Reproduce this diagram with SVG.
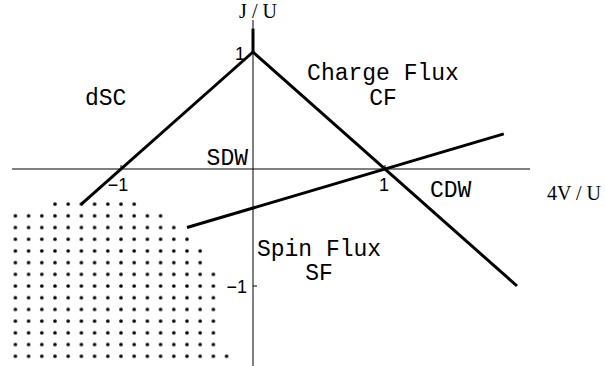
<svg xmlns="http://www.w3.org/2000/svg" width="605" height="366" viewBox="0 0 605 366">
  <style>
    .axis { stroke: #000; stroke-width: 1; fill: none; }
    .bound { stroke: #000; stroke-width: 3; fill: none; }
    .tick { font-family: "Liberation Sans", Arial, sans-serif; font-size: 18px; fill: #000; }
    .axlab { font-family: "Liberation Serif", "Times New Roman", serif; font-size: 20px; fill: #000; }
    .phase { font-family: "Liberation Mono", "Courier New", monospace; font-size: 23px; fill: #000; }
  </style>
  <defs>
    <pattern id="dots" patternUnits="userSpaceOnUse" x="246.4" y="163.15" width="13.2" height="11.7">
      <circle cx="6.6" cy="5.85" r="1.8" fill="#000"/>
    </pattern>
  </defs>
  <rect width="605" height="366" fill="#fff"/>

  <g id="dotted-region">
    <polygon fill="url(#dots)" points="48.4,198.25 140.8,198.25 140.8,209.95 167.2,209.95 167.2,221.65 180.4,221.65 180.4,233.35 193.6,233.35 193.6,245.05 206.8,245.05 206.8,268.45 220,268.45 220,350.35 233.2,350.35 233.2,362.05 8.8,362.05 8.8,209.95 48.4,209.95"/>
  </g>

  <g id="axes">
    <line class="axis" x1="12" y1="169" x2="530" y2="169"/>
    <line class="axis" x1="253" y1="20" x2="253" y2="366"/>
    <line class="axis" x1="253" y1="286" x2="257" y2="286"/>
    <line class="axis" x1="121" y1="169" x2="121" y2="165"/>
    <line class="axis" x1="385" y1="169" x2="385" y2="165"/>
    <text class="axlab" x="258" y="18" text-anchor="middle">J / U</text>
    <text class="axlab" x="601" y="200" text-anchor="end">4V / U</text>
    <text class="tick" x="245" y="60" text-anchor="end">1</text>
    <text class="tick" x="247" y="293" text-anchor="end">−1</text>
    <text class="tick" x="118" y="191" text-anchor="middle">−1</text>
    <text class="tick" x="384" y="191" text-anchor="middle">1</text>
  </g>

  <g id="connectors">
    <line class="bound" x1="253" y1="52" x2="253" y2="28.6"/>
    <line class="bound" x1="253" y1="52" x2="81.4" y2="204.1"/>
    <line class="bound" x1="253" y1="52" x2="517" y2="286"/>
    <line class="bound" x1="187" y1="227.5" x2="503.8" y2="133.9"/>
  </g>

  <g id="dSC"><text class="phase" x="85" y="105">dSC</text></g>
  <g id="CF">
    <text class="phase" x="383" y="80" text-anchor="middle">Charge Flux</text>
    <text class="phase" x="383" y="105" text-anchor="middle">CF</text>
  </g>
  <g id="SDW"><text class="phase" x="248" y="165" text-anchor="end">SDW</text></g>
  <g id="CDW"><text class="phase" x="430" y="197">CDW</text></g>
  <g id="SF">
    <text class="phase" x="319" y="256" text-anchor="middle">Spin Flux</text>
    <text class="phase" x="319" y="280" text-anchor="middle">SF</text>
  </g>
</svg>
